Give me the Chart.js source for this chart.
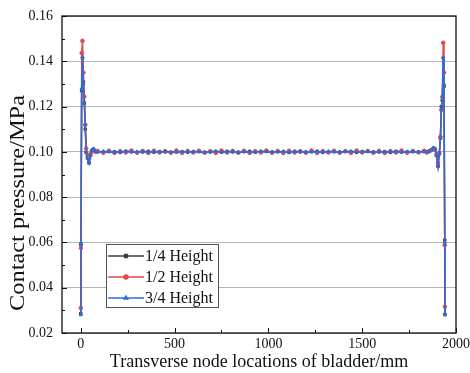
<!DOCTYPE html>
<html>
<head>
<meta charset="utf-8">
<script src="https://cdn.jsdelivr.net/npm/chart.js@4"></script>
<style>
  body { margin: 0; background: #fff; }
  #chart { display: block; }
</style>
</head>
<body>
<canvas id="chart" width="470" height="373"></canvas>
<script>
// node positions along the bladder (mm)
const nodeX = [0, 1, 5, 9, 14, 19, 24, 29, 36, 44, 52, 60, 68, 78,
  90, 120, 150, 180, 210, 240, 270, 300, 330, 360,
  390, 420, 450, 480, 510, 540, 570, 600, 630, 660,
  690, 720, 750, 780, 810, 840, 870, 900, 930, 960,
  990, 1020, 1050, 1080, 1110, 1140, 1170, 1200, 1230, 1260,
  1290, 1320, 1350, 1380, 1410, 1440, 1470, 1500, 1530, 1560,
  1590, 1620, 1650, 1680, 1710, 1740, 1770, 1800, 1830,
  1845, 1858, 1870, 1880, 1888, 1896, 1904, 1911, 1917, 1922, 1927, 1932, 1936, 1940, 1941];

// contact pressure (MPa)
const quarterHeight = [0.0285, 0.0590, 0.1270, 0.1415, 0.1310, 0.1215, 0.1100, 0.0998, 0.0973, 0.0952, 0.0984, 0.1006, 0.1012, 0.1002,
  0.1001, 0.0999, 0.1002, 0.1000, 0.0998, 0.1002, 0.1001, 0.0998, 0.1000, 0.1002,
  0.0999, 0.1001, 0.1000, 0.0998, 0.1002, 0.1000, 0.0999, 0.1001, 0.1002, 0.0998,
  0.1000, 0.1001, 0.0999, 0.1002, 0.1000, 0.0998, 0.1001, 0.1002, 0.0999, 0.1000,
  0.1002, 0.0999, 0.1001, 0.1000, 0.0998, 0.1002, 0.1000, 0.0999, 0.1001, 0.1002,
  0.0998, 0.1000, 0.1001, 0.0999, 0.1002, 0.1000, 0.0998, 0.1001, 0.1002, 0.0999,
  0.1000, 0.1001, 0.0998, 0.1002, 0.1000, 0.0999, 0.1001, 0.1000, 0.1002,
  0.1001, 0.1002, 0.1009, 0.1017, 0.1013, 0.0984, 0.0938, 0.0992, 0.1062, 0.1200, 0.1228, 0.1415, 0.1290, 0.0610, 0.0282];

const halfHeight = [0.0310, 0.0575, 0.1436, 0.1490, 0.1350, 0.1244, 0.1120, 0.1015, 0.0985, 0.0970, 0.0992, 0.1005, 0.1009, 0.1000,
  0.1004, 0.0996, 0.1005, 0.0995, 0.1003, 0.0997, 0.1006, 0.0996, 0.1004, 0.0995,
  0.1005, 0.0997, 0.1003, 0.0996, 0.1006, 0.0995, 0.1004, 0.0997, 0.1005, 0.0996,
  0.1003, 0.0995, 0.1006, 0.0997, 0.1004, 0.0996, 0.1005, 0.0995, 0.1003, 0.0997,
  0.1006, 0.0996, 0.1004, 0.0995, 0.1005, 0.0997, 0.1003, 0.0996, 0.1006, 0.0995,
  0.1004, 0.0997, 0.1005, 0.0996, 0.1003, 0.0995, 0.1006, 0.0997, 0.1004, 0.0996,
  0.1005, 0.0995, 0.1003, 0.0997, 0.1006, 0.0996, 0.1004, 0.0997, 0.1005,
  0.0997, 0.1004, 0.1008, 0.1015, 0.1010, 0.0990, 0.0950, 0.0995, 0.1067, 0.1185, 0.1243, 0.1482, 0.1350, 0.0588, 0.0316];

const threeQuarterHeight = [0.0280, 0.0600, 0.1280, 0.1420, 0.1300, 0.1220, 0.1120, 0.1000, 0.0972, 0.0950, 0.0985, 0.1008, 0.1013, 0.1003,
  0.0999, 0.1002, 0.1000, 0.0998, 0.1001, 0.1003, 0.0999, 0.1000, 0.1002, 0.0998,
  0.1001, 0.0999, 0.1003, 0.1000, 0.0998, 0.1001, 0.1002, 0.0999, 0.1000, 0.0997,
  0.1001, 0.1003, 0.0999, 0.1000, 0.1002, 0.0998, 0.1001, 0.1000, 0.0999, 0.1003,
  0.1001, 0.0998, 0.1000, 0.1002, 0.0999, 0.1001, 0.1003, 0.0998, 0.1000, 0.1001,
  0.0999, 0.1002, 0.1000, 0.0998, 0.1001, 0.1003, 0.0999, 0.1000, 0.1002, 0.0998,
  0.1001, 0.0999, 0.1002, 0.1000, 0.0998, 0.1001, 0.1002, 0.0999, 0.1000,
  0.1000, 0.1003, 0.1010, 0.1018, 0.1014, 0.0985, 0.0935, 0.0990, 0.1060, 0.1190, 0.1230, 0.1417, 0.1300, 0.0600, 0.0280];

const seriesNames = ['1/4 Height', '1/2 Height', '3/4 Height'];
const xTickValues = [0, 500, 1000, 1500, 2000];

const serif = "'Liberation Serif', 'Times New Roman', serif";
const colors = ['#3c3c3c', '#e5484b', '#2a6fd8'];
const markers = ['rect', 'circle', 'triangle'];

function toPoints(values) {
    return nodeX.map((x, i) => ({ x: x, y: values[i] }));
}

// box frame + inward tick marks (the library only draws outward ticks)
const framePlugin = {
    id: 'frame',
    afterDatasetsDraw(chart) {
        const { ctx, chartArea: a, scales } = chart;
        ctx.save();
        ctx.strokeStyle = '#111';
        ctx.lineWidth = 1.3;
        ctx.strokeRect(a.left, a.top, a.right - a.left, a.bottom - a.top);
        ctx.lineWidth = 1;
        ctx.beginPath();
        for (let v = 2; v <= 16; v++) {
            const y = Math.round(scales.y.getPixelForValue(v / 100)) + 0.5;
            const len = v % 2 === 0 ? 5 : 3;
            ctx.moveTo(a.left, y);
            ctx.lineTo(a.left + len, y);
        }
        for (let v = 0; v <= 2000; v += 250) {
            const x = Math.round(scales.x.getPixelForValue(v)) + 0.5;
            const len = v % 500 === 0 ? 5 : 3;
            ctx.moveTo(x, a.bottom);
            ctx.lineTo(x, a.bottom - len);
        }
        ctx.stroke();
        ctx.restore();
    }
};

// legend box drawn inside the plot, lower left
const legendPlugin = {
    id: 'boxLegend',
    afterDraw(chart) {
        const { ctx, chartArea: a } = chart;
        const left = a.left + 44, top = a.top + 228;
        ctx.save();
        ctx.fillStyle = '#fff';
        ctx.fillRect(left, top, 112, 63);
        ctx.strokeStyle = '#555';
        ctx.lineWidth = 1;
        ctx.strokeRect(left + 0.5, top + 0.5, 112, 63);
        ctx.font = '16px ' + serif;
        ctx.textBaseline = 'middle';
        seriesNames.forEach((name, i) => {
            const y = top + 12 + i * 21;
            ctx.strokeStyle = colors[i];
            ctx.lineWidth = 1.5;
            ctx.beginPath();
            ctx.moveTo(left + 2, y);
            ctx.lineTo(left + 38, y);
            ctx.stroke();
            ctx.fillStyle = colors[i];
            Chart.helpers.drawPoint(ctx, { pointStyle: markers[i], radius: 2, borderWidth: 1 }, left + 20, y);
            ctx.fillStyle = '#111';
            ctx.fillText(name, left + 39, y + 1);
        });
        ctx.restore();
    }
};

// y title, drawn by hand so it can be stretched like the original
const yTitlePlugin = {
    id: 'yTitle',
    afterDraw(chart) {
        const ctx = chart.ctx;
        const text = 'Contact pressure/MPa';
        ctx.save();
        ctx.font = '21px ' + serif;
        const w = ctx.measureText(text).width;
        ctx.translate(23.5, 203);
        ctx.rotate(-Math.PI / 2);
        ctx.scale(216 / w, 1);
        ctx.fillStyle = '#111';
        ctx.textAlign = 'center';
        ctx.textBaseline = 'alphabetic';
        ctx.fillText(text, 0, 0);
        ctx.restore();
    }
};

const datasets = [quarterHeight, halfHeight, threeQuarterHeight].map((values, i) => ({
    label: seriesNames[i],
    data: toPoints(values),
    borderColor: colors[i],
    backgroundColor: colors[i],
    borderWidth: 1.5,
    pointStyle: markers[i],
    pointRadius: 1.8,
    pointBorderWidth: 1,
    tension: 0,
    order: 3 - i
}));

new Chart(document.getElementById('chart'), {
    type: 'line',
    data: { datasets: datasets },
    plugins: [framePlugin, legendPlugin, yTitlePlugin],
    options: {
        responsive: false,
        animation: false,
        devicePixelRatio: 1,
        layout: { padding: { top: 16, right: 14, left: 0, bottom: 0 } },
        plugins: { legend: { display: false }, tooltip: { enabled: false } },
        scales: {
            x: {
                type: 'linear',
                min: -100,
                max: 2000,
                afterBuildTicks: (scale) => { scale.ticks = xTickValues.map(v => ({ value: v })); },
                afterFit: (scale) => {
                    scale.height = 40;
                    scale.paddingLeft = 0;
                    scale.paddingRight = 0;
                },
                grid: { display: false, drawTicks: false },
                border: { display: false },
                ticks: {
                    color: '#111',
                    font: { family: serif, size: 14 },
                    padding: 3,
                    maxRotation: 0,
                    callback: (v) => String(v)
                },
                title: {
                    display: true,
                    text: 'Transverse node locations of bladder/mm',
                    color: '#111',
                    font: { family: serif, size: 18 },
                    padding: { top: 0, bottom: 0 }
                }
            },
            y: {
                min: 0.02,
                max: 0.16,
                afterFit: (scale) => {
                    scale.width = 62;
                    scale.paddingTop = 0;
                    scale.paddingBottom = 0;
                },
                grid: { color: '#b4b4b4', lineWidth: 1, drawTicks: false },
                border: { display: false },
                ticks: {
                    stepSize: 0.02,
                    color: '#111',
                    font: { family: serif, size: 14 },
                    padding: 9,
                    callback: (v) => v.toFixed(2)
                }
            }
        }
    }
});
</script>
</body>
</html>
